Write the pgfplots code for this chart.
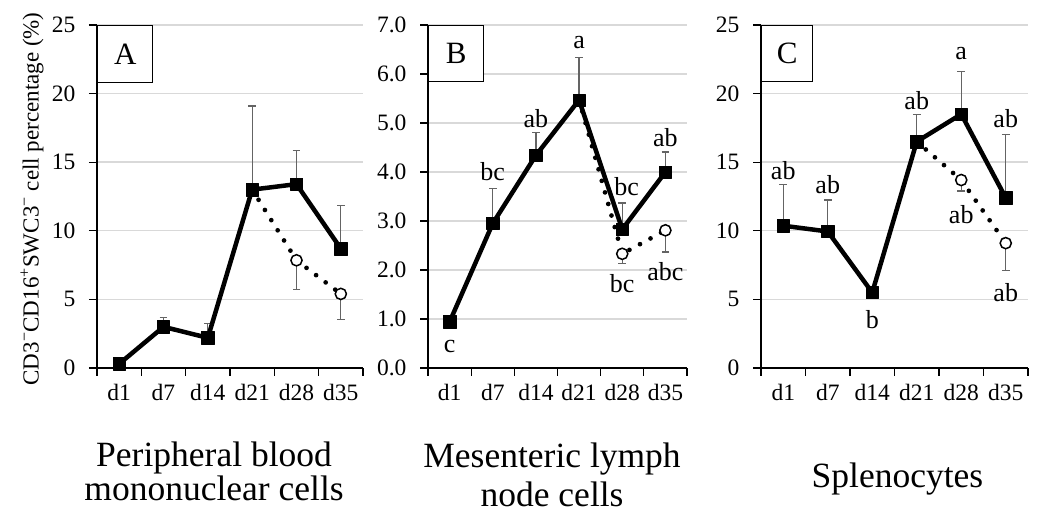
\documentclass[border=0pt]{standalone}
\usepackage{fontspec}
\setmainfont{Liberation Serif}
\usepackage{pgfplots}
\pgfplotsset{compat=1.18}

\definecolor{gridgray}{RGB}{217,217,217}
\definecolor{errgray}{RGB}{100,100,100}

\pgfplotsset{
  panel/.style={
    scale only axis, height=343pt,
    xmin=0, xmax=6, xtick={0,...,6},
    xticklabels={d1,d7,d14,d21,d28,d35}, x tick label as interval,
    axis x line=bottom, axis y line=left,
    axis line style={line width=1.5pt, -},
    tick align=outside, major tick length=8pt,
    tick style={black, line width=1.3pt},
    ymajorgrids, grid style={gridgray, line width=1.4pt},
    ticklabel style={font=\fontsize{23.5}{28}\selectfont},
    yticklabel style={xshift=-10pt},
    xticklabel style={yshift=-5pt},
    /pgf/number format/assume math mode=true,
    clip=false, anchor=south west,
  },
  errs/.style={draw=none, forget plot, error bars/.cd, y dir=#1, y explicit,
    error bar style={draw=errgray, line width=1.3pt},
    error mark options={rotate=90, draw=errgray, line width=1.3pt, mark size=3.8pt}},
  dots/.style={black, line width=4.7pt, dash pattern=on 0pt off 12pt, line cap=round,
    mark=*, mark indices={2,3}, mark size=5.6pt,
    mark options={solid, fill=white, draw=black, line width=1.5pt}},
  main/.style={black, line width=4.5pt, line join=round,
    mark=square*, mark size=6.2pt, mark options={solid, line width=0.5pt}},
}
\tikzset{
  lab/.style={font=\fontsize{26}{26}\selectfont, inner sep=0pt},
  ttl/.style={font=\fontsize{35.5}{35.5}\selectfont, inner sep=0pt, anchor=base},
  box/.style={draw, line width=1.4pt, fill=white, anchor=north west,
    minimum width=55pt, minimum height=57pt, inner sep=0pt,
    font=\fontsize{31}{31}\selectfont},
}

\begin{document}
\begin{tikzpicture}
\useasboundingbox (0,0) rectangle (1037pt,516pt);

% A: peripheral blood
\begin{axis}[panel, at={(97pt,148pt)}, width=266pt,
  ymin=0, ymax=25, ytick={0,5,...,25},
  ylabel={CD3\textsuperscript{−}CD16\textsuperscript{+}SWC3\textsuperscript{−} cell percentage (\%)},
  ylabel style={at={(rel axis cs:-0.244,0.493)}, anchor=center,
    font=\fontsize{23}{23}\selectfont}]
\addplot[errs=plus] coordinates {
  (0.5,0.3) +- (0,0.3) (1.5,3.0) +- (0,0.7) (2.5,2.2) +- (0,1.05)
  (3.5,13.0) +- (0,6.1) (4.5,13.4) +- (0,2.45) (5.5,8.7) +- (0,3.15)};
\addplot[errs=minus] coordinates {
  (4.5,7.85) +- (0,2.15) (5.5,5.4) +- (0,1.85)};
\addplot[dots] coordinates {(3.5,13.0) (4.5,7.85) (5.5,5.4)};
\addplot[main] coordinates {
  (0.5,0.3) (1.5,3.0) (2.5,2.2) (3.5,13.0) (4.5,13.4) (5.5,8.7)};
\node[ttl] at (rel axis cs:0.44,0) [yshift=-99pt] {Peripheral blood};
\node[ttl] at (rel axis cs:0.44,0) [yshift=-133pt] {mononuclear cells};
\node[box] at (rel axis cs:0,1) {A};
\end{axis}

% B: mesenteric lymph node
\begin{axis}[panel, at={(428pt,148pt)}, width=259pt,
  ymin=0, ymax=7, ytick={0,1,...,7},
  yticklabel style={/pgf/number format/.cd, fixed, fixed zerofill, precision=1}]
\addplot[errs=plus] coordinates {
  (0.5,0.94) +- (0,0.05) (1.5,2.95) +- (0,0.71) (2.5,4.34) +- (0,0.46)
  (3.5,5.47) +- (0,0.86) (4.5,2.83) +- (0,0.54) (5.5,4.0) +- (0,0.41)};
\addplot[errs=minus] coordinates {
  (4.5,2.33) +- (0,0.2) (5.5,2.81) +- (0,0.44)};
\addplot[dots] coordinates {(3.5,5.47) (4.5,2.33) (5.5,2.81)};
\addplot[main] coordinates {
  (0.5,0.94) (1.5,2.95) (2.5,4.34) (3.5,5.47) (4.5,2.83) (5.5,4.0)};
\node[lab] at (axis cs:0.5,0.43) {c};
\node[lab] at (axis cs:1.5,4.0) {bc};
\node[lab] at (axis cs:2.5,5.09) {ab};
\node[lab] at (axis cs:3.5,6.64) {a};
\node[lab] at (axis cs:4.6,3.70) {bc};
\node[lab] at (axis cs:5.5,4.70) {ab};
\node[lab] at (axis cs:4.5,1.72) {bc};
\node[lab] at (axis cs:5.5,1.96) {abc};
\node[ttl] at (rel axis cs:0.479,0) [yshift=-100pt] {Mesenteric lymph};
\node[ttl] at (rel axis cs:0.479,0) [yshift=-139pt] {node cells};
\node[box, minimum height=56pt] at (rel axis cs:0,1) {B};
\end{axis}

% C: splenocytes
\begin{axis}[panel, at={(761pt,148pt)}, width=267pt,
  ymin=0, ymax=25, ytick={0,5,...,25}]
\addplot[errs=plus] coordinates {
  (0.5,10.37) +- (0,3.0) (1.5,9.95) +- (0,2.3) (2.5,5.5) +- (0,0.3)
  (3.5,16.5) +- (0,2.0) (4.5,18.5) +- (0,3.1) (5.5,12.4) +- (0,4.6)};
\addplot[errs=minus] coordinates {
  (4.5,13.7) +- (0,0.8) (5.5,9.1) +- (0,2.0)};
\addplot[dots] coordinates {(3.5,16.5) (4.5,13.7) (5.5,9.1)};
\addplot[main] coordinates {
  (0.5,10.37) (1.5,9.95) (2.5,5.5) (3.5,16.5) (4.5,18.5) (5.5,12.4)};
\node[lab] at (axis cs:0.5,14.4) {ab};
\node[lab] at (axis cs:1.5,13.4) {ab};
\node[lab] at (axis cs:2.5,3.54) {b};
\node[lab] at (axis cs:3.5,19.5) {ab};
\node[lab] at (axis cs:4.5,22.9) {a};
\node[lab] at (axis cs:5.5,18.2) {ab};
\node[lab] at (axis cs:4.5,11.2) {ab};
\node[lab] at (axis cs:5.5,5.5) {ab};
\node[ttl] at (rel axis cs:0.511,0) [yshift=-120pt] {Splenocytes};
\node[box, minimum width=51pt, minimum height=56pt] at (rel axis cs:0,1) {C};
\end{axis}
\end{tikzpicture}
\end{document}
